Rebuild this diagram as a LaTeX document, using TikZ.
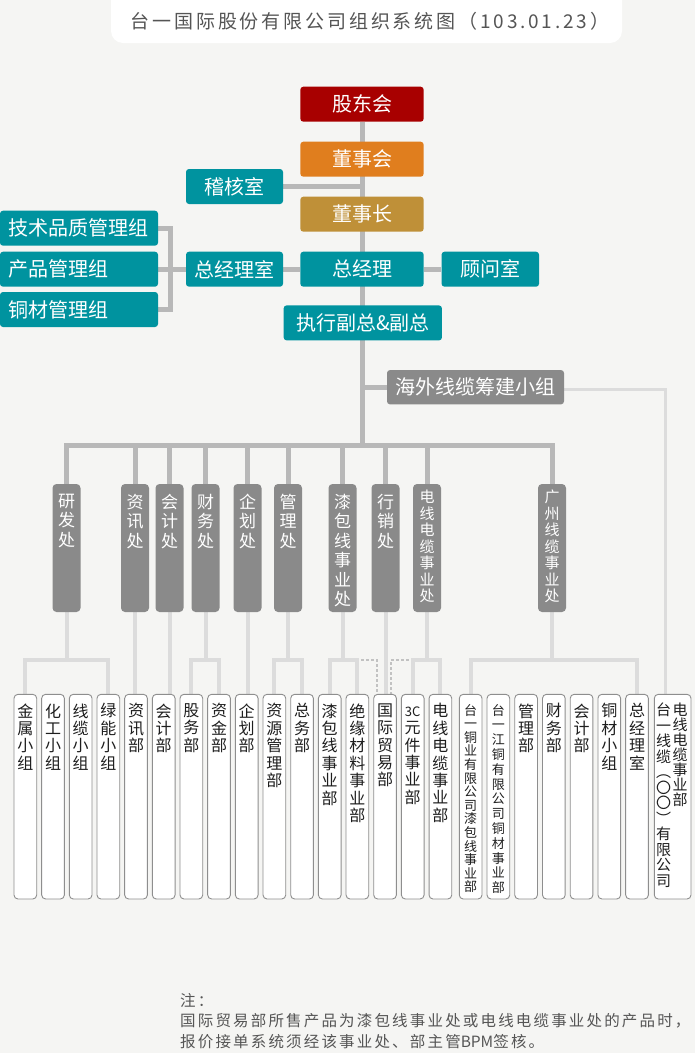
\documentclass[tikz,border=0pt]{standalone}
\usepackage{fontspec}
\setmainfont{Noto Sans CJK SC}
\newfontfamily\titlefont[LetterSpace=15]{Noto Sans CJK SC}
\newfontfamily\notefont[LetterSpace=14]{Noto Sans CJK SC}
\usetikzlibrary{calc,backgrounds}
\definecolor{bg}{HTML}{F5F5F3}
\definecolor{redc}{HTML}{A80000}
\definecolor{orangec}{HTML}{E07E1E}
\definecolor{goldc}{HTML}{BF9038}
\definecolor{tealc}{HTML}{00939F}
\definecolor{divgray}{HTML}{8A8A8A}
\definecolor{connc}{HTML}{B8B8B8}
\definecolor{lconnc}{HTML}{DCDCDC}
\definecolor{dotc}{HTML}{C2C2C2}
\definecolor{leafborder}{HTML}{8E8E8E}
\definecolor{titlec}{HTML}{555555}
\definecolor{leaftxt}{HTML}{1E1E1E}
\begin{document}
\begin{tikzpicture}[x=1pt,y=-1pt,
  topbox/.style={rectangle, rounded corners=3pt, minimum height=35pt, inner sep=0pt, text=white, font=\fontsize{20}{20}\selectfont},
  widebox/.style={topbox, minimum width=123.3pt},
  smallbox/.style={topbox, fill=tealc, minimum width=97pt},
  grpbox/.style={topbox, fill=tealc, text width=140pt, inner xsep=9pt, align=left},
  divbox/.style={rectangle, rounded corners=4pt, fill=divgray, minimum width=28pt, minimum height=128pt, inner sep=0pt},
  divtext/.style={anchor=north, inner sep=0pt, text=white, align=center, font=\fontsize{17}{19.5}\selectfont},
  divtextb/.style={anchor=north, inner sep=0pt, text=white, align=center, font=\fontsize{15}{16.5}\selectfont},
  leaf/.style={rectangle, rounded corners=4pt, draw=leafborder, line width=0.9pt, fill=white, minimum width=22.7pt, minimum height=204.7pt, inner sep=0pt},
  leaftext/.style={anchor=north, inner sep=0pt, text=leaftxt, align=center, font=\fontsize{16}{17.4}\selectfont},
  conn/.style={draw=connc, line width=5pt},
  lconn/.style={draw=lconnc, line width=4pt},
  hwline/.style={draw=lconnc, line width=3pt},
  dotconn/.style={draw=dotc, line width=2.5pt, dash pattern=on 2.5pt off 2.5pt}
]
\useasboundingbox (0,0) rectangle (695,1053);

% title
\node[rectangle, rounded corners=12pt, fill=white, minimum width=511pt, minimum height=60pt, inner sep=0pt] (tbox) at (366.5,13) {};
\node[inner sep=0pt, text=titlec, font=\titlefont\fontsize{19}{19}\selectfont] (title) at (370,21) {台一国际股份有限公司组织系统图（103.01.23）};

% top chain
\node[widebox, fill=redc] (gd) at (362,104.2) {股东会};
\node[widebox, fill=orangec] (dsh) at (362,159.2) {董事会};
\node[smallbox] (jh) at (234.5,186.5) {稽核室};
\node[widebox, fill=goldc] (dsz) at (362,214.2) {董事长};
\node[widebox, fill=tealc] (zjl) at (362,269.2) {总经理};
\node[smallbox] (zjls) at (234.5,269.2) {总经理室};
\node[smallbox, minimum width=97.5pt] (gw) at (490.3,269.2) {顾问室};
\node[grpbox] (g1) at (79,228.2) {技术品质管理组};
\node[grpbox] (g2) at (79,269.2) {产品管理组};
\node[grpbox] (g3) at (79,309.5) {铜材管理组};
\node[topbox, fill=tealc, minimum width=158.3pt] (fz) at (362.8,322.9) {执行副总\&副总};
\node[topbox, fill=divgray, minimum width=177pt, minimum height=34.3pt] (hw) at (475.5,387.2) {海外线缆筹建小组};

% divisions
\node[divbox] (d1) at (66.5,548) {};
\node[divbox] (d2) at (135,548) {};
\node[divbox] (d3) at (169.5,548) {};
\node[divbox] (d4) at (205.5,548) {};
\node[divbox] (d5) at (247.5,548) {};
\node[divbox] (d6) at (288,548) {};
\node[divbox] (d7) at (342.5,548) {};
\node[divbox] (d8) at (385.5,548) {};
\node[divbox] (d9) at (427,548) {};
\node[divbox] (d10) at (552,548) {};
\node[divtext] (t1) at ($(d1.north)+(0,10)$) {研\\发\\处};
\node[divtext] (t2) at ($(d2.north)+(0,10)$) {资\\讯\\处};
\node[divtext] (t3) at ($(d3.north)+(0,10)$) {会\\计\\处};
\node[divtext] (t4) at ($(d4.north)+(0,10)$) {财\\务\\处};
\node[divtext] (t5) at ($(d5.north)+(0,10)$) {企\\划\\处};
\node[divtext] (t6) at ($(d6.north)+(0,10)$) {管\\理\\处};
\node[divtext] (t7) at ($(d7.north)+(0,10)$) {漆\\包\\线\\事\\业\\处};
\node[divtext] (t8) at ($(d8.north)+(0,10)$) {行\\销\\处};
\node[divtextb] (t9) at ($(d9.north)+(0,6)$) {电\\线\\电\\缆\\事\\业\\处};
\node[divtextb] (t10) at ($(d10.north)+(0,6)$) {广\\州\\线\\缆\\事\\业\\处};

% leaves
\node[leaf] (l1) at (25.35,796.65) {};
\node[leaf] (l2) at (53.02,796.65) {};
\node[leaf] (l3) at (80.69,796.65) {};
\node[leaf] (l4) at (108.36,796.65) {};
\node[leaf] (l5) at (136.03,796.65) {};
\node[leaf] (l6) at (163.70,796.65) {};
\node[leaf] (l7) at (191.37,796.65) {};
\node[leaf] (l8) at (219.04,796.65) {};
\node[leaf] (l9) at (246.71,796.65) {};
\node[leaf] (l10) at (274.38,796.65) {};
\node[leaf] (l11) at (302.05,796.65) {};
\node[leaf] (l12) at (329.72,796.65) {};
\node[leaf] (l13) at (357.39,796.65) {};
\node[leaf] (l14) at (385.06,796.65) {};
\node[leaf] (l15) at (412.73,796.65) {};
\node[leaf] (l16) at (440.40,796.65) {};
\node[leaf] (l17) at (470.65,796.65) {};
\node[leaf] (l18) at (498.38,796.65) {};
\node[leaf] (l19) at (526.11,796.65) {};
\node[leaf] (l20) at (553.84,796.65) {};
\node[leaf] (l21) at (581.57,796.65) {};
\node[leaf] (l22) at (609.30,796.65) {};
\node[leaf] (l23) at (637.03,796.65) {};
\node[leaf, minimum width=36.7pt] (l24) at (672.65,796.65) {};

\node[leaftext] (s1) at ($(l1.north)+(0,9.5)$) {金\\属\\小\\组};
\node[leaftext] (s2) at ($(l2.north)+(0,9.5)$) {化\\工\\小\\组};
\node[leaftext] (s3) at ($(l3.north)+(0,9.5)$) {线\\缆\\小\\组};
\node[leaftext] (s4) at ($(l4.north)+(0,9.5)$) {绿\\能\\小\\组};
\node[leaftext] (s5) at ($(l5.north)+(0,9.5)$) {资\\讯\\部};
\node[leaftext] (s6) at ($(l6.north)+(0,9.5)$) {会\\计\\部};
\node[leaftext] (s7) at ($(l7.north)+(0,9.5)$) {股\\务\\部};
\node[leaftext] (s8) at ($(l8.north)+(0,9.5)$) {资\\金\\部};
\node[leaftext] (s9) at ($(l9.north)+(0,9.5)$) {企\\划\\部};
\node[leaftext] (s10) at ($(l10.north)+(0,9.5)$) {资\\源\\管\\理\\部};
\node[leaftext] (s11) at ($(l11.north)+(0,9.5)$) {总\\务\\部};
\node[leaftext] (s12) at ($(l12.north)+(0,9.5)$) {漆\\包\\线\\事\\业\\部};
\node[leaftext] (s13) at ($(l13.north)+(0,9.5)$) {绝\\缘\\材\\料\\事\\业\\部};
\node[leaftext] (s14) at ($(l14.north)+(0,9.5)$) {国\\际\\贸\\易\\部};
\node[leaftext] (s15) at ($(l15.north)+(0,9.5)$) {\vphantom{国}{\fontsize{13}{13}\selectfont 3C}\\元\\件\\事\\业\\部};
\node[leaftext] (s16) at ($(l16.north)+(0,9.5)$) {电\\线\\电\\缆\\事\\业\\部};
\node[leaftext, font=\fontsize{13}{13.6}\selectfont] (s17) at ($(l17.north)+(0,10)$) {台\\一\\铜\\业\\有\\限\\公\\司\\漆\\包\\线\\事\\业\\部};
\node[leaftext, font=\fontsize{13}{14.8}\selectfont] (s18) at ($(l18.north)+(0,10)$) {台\\一\\江\\铜\\有\\限\\公\\司\\铜\\材\\事\\业\\部};
\node[leaftext] (s19) at ($(l19.north)+(0,9.5)$) {管\\理\\部};
\node[leaftext] (s20) at ($(l20.north)+(0,9.5)$) {财\\务\\部};
\node[leaftext] (s21) at ($(l21.north)+(0,9.5)$) {会\\计\\部};
\node[leaftext] (s22) at ($(l22.north)+(0,9.5)$) {铜\\材\\小\\组};
\node[leaftext] (s23) at ($(l23.north)+(0,9.5)$) {总\\经\\理\\室};
\node[leaftext, font=\fontsize{15}{15}\selectfont] (s24a) at ($(l24.north)+(7.5,9)$) {电\\线\\电\\缆\\事\\业\\部};
\node[leaftext, font=\fontsize{15}{15.5}\selectfont] (s24b) at ($(l24.north)+(-9,9)$) {台\\一\\线\\缆\\︵\\〇\\〇\\︶\\有\\限\\公\\司};

% note
\node[anchor=north west, inner sep=0pt, align=left, text=titlec, font=\notefont\fontsize{15.5}{20.5}\selectfont] (note) at (180,993) {注：\\国际贸易部所售产品为漆包线事业处或电线电缆事业处的产品时，\\报价接单系统须经该事业处、部主管{\rmfamily BPM}签核。};

% connectors
\begin{scope}[on background layer]
\fill[bg] (0,0) rectangle (695,1053);
\coordinate (bus) at (362,445);
\coordinate (jy) at (0,660);
\draw[conn] (gd.south) -- (bus);
\draw[conn] (jh.east) -- (jh.east -| gd.south);
\draw[conn] (zjls.east) -- (zjl.west);
\draw[conn] (zjl.east) -- (gw.west);
\draw[conn] (g1.east) -| ($(g3.east)+(12.6,0)$) -- (g3.east);
\draw[conn] (g2.east) -- (zjls.west);
\draw[conn] (hw.west) -- (hw.west -| bus);
\draw[conn] (d1.north) |- (bus) -| (d10.north);
\foreach \k in {d2,d3,d4,d5,d6,d7,d8,d9}{\draw[conn] (\k.north) -- (\k.north |- bus);}
\draw[hwline] ($(hw.east)+(0,2)$) -| ($(l24.north)+(-7,0)$);
% lower
\foreach \k in {d1,d4,d6,d7,d9,d10}{\draw[lconn] (\k.south) -- (\k.south |- jy);}
\draw[lconn] (l1.north) |- (l4.north |- jy) -- (l4.north);
\draw[lconn] (l7.north) |- (l8.north |- jy) -- (l8.north);
\draw[lconn] (l10.north) |- (l11.north |- jy) -- (l11.north);
\draw[lconn] (l12.north) |- (l13.north |- jy) -- (l13.north);
\draw[lconn] (l15.north) |- (l16.north |- jy) -- (l16.north);
\draw[lconn] (l17.north) |- (l23.north |- jy) -- (l23.north);
\draw[lconn] (d2.south) -- (d2.south |- l5.north);
\draw[lconn] (d3.south) -- (d3.south |- l6.north);
\draw[lconn] (d5.south) -- (d5.south |- l9.north);
\draw[lconn] (d8.south) -- (d8.south |- l14.north);
\draw[dotconn] ($(l13.north |- jy)+(4,0)$) -| ($(l14.north)+(-8,0)$);
\draw[dotconn] ($(l15.north |- jy)+(-4,0)$) -| ($(l14.north)+(6,0)$);
\end{scope}
\end{tikzpicture}
\end{document}
